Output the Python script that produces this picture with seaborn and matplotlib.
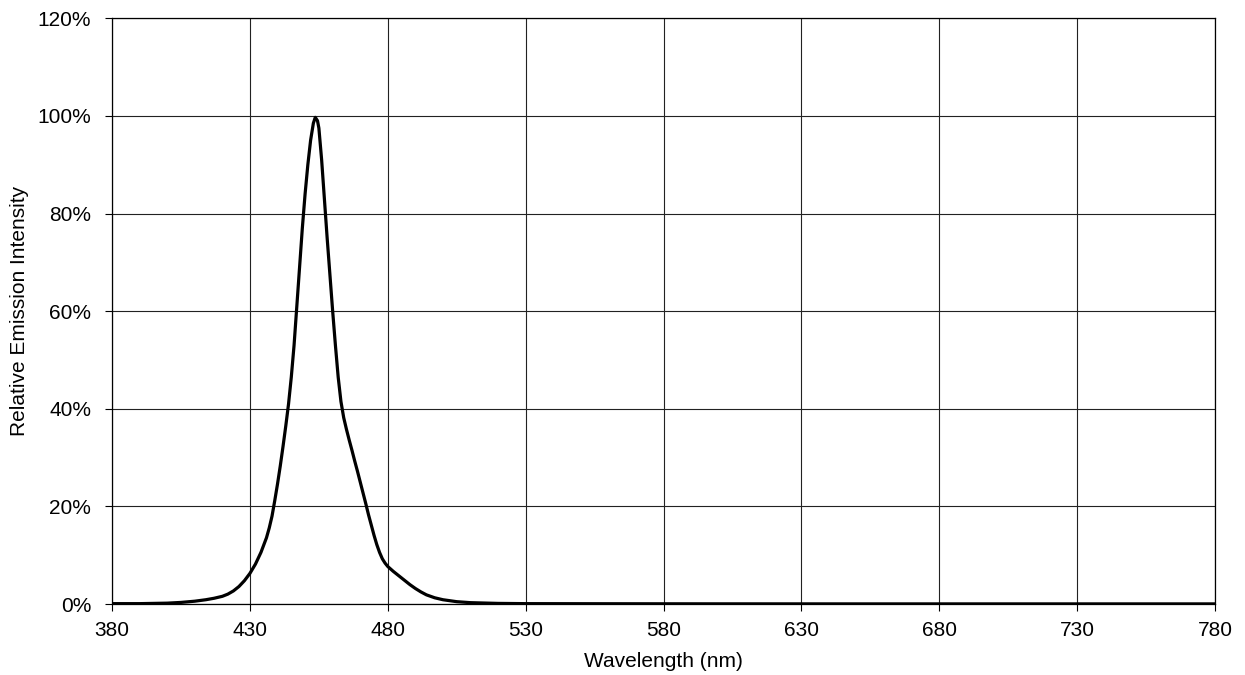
import matplotlib
matplotlib.use("Agg")
import matplotlib.pyplot as plt
import seaborn as sns
import pandas as pd
from matplotlib.ticker import FuncFormatter

wavelength = [380, 390, 400, 405, 410, 414, 417, 420, 422, 424, 426, 428, 430, 432, 434, 436,
              437, 438, 439, 440, 441, 442, 443, 444, 445, 446, 447, 448, 449, 450, 451,
              452, 453, 453.7, 454.5, 455, 456, 457, 458, 459, 460, 461, 462, 463, 464,
              465, 466, 467, 468, 469, 470, 471, 472, 473, 474, 475, 476, 477, 478, 479,
              480, 481, 482, 484, 486, 488, 490, 492, 494, 497, 500, 505, 510, 520, 530,
              560, 600, 650, 700, 750, 780]
intensity = [0.1, 0.1, 0.2, 0.35, 0.6, 0.9, 1.2, 1.6, 2.05, 2.7, 3.6, 4.8, 6.3, 8.2, 10.6, 13.6,
             15.6, 18.0, 21.2, 24.6, 28.3, 32.3, 36.5, 41, 46.5, 53, 61, 69, 77, 84, 90,
             95, 98.5, 99.7, 99, 97.5, 91, 83, 75, 67.5, 60, 53, 46.5, 41.5, 38.2,
             35.8, 33.6, 31.5, 29.3, 27.2, 25.0, 22.8, 20.6, 18.3, 16.2, 14.1, 12.2, 10.6, 9.3, 8.4,
             7.7, 7.2, 6.7, 5.8, 4.9, 4.0, 3.2, 2.5, 1.9, 1.3, 0.9, 0.5, 0.3, 0.15, 0.1,
             0.08, 0.06, 0.05, 0.05, 0.05, 0.05]
x_ticks = [380, 430, 480, 530, 580, 630, 680, 730, 780]
y_ticks = [0, 20, 40, 60, 80, 100, 120]

df = pd.DataFrame({"Wavelength": wavelength, "Intensity": intensity})

sns.set_style("white")
plt.rcParams['font.family'] = ['Liberation Sans', 'DejaVu Sans']

fig = plt.figure(figsize=(12.45, 6.75), dpi=100)
ax = fig.add_axes([0.09, 0.105, 0.886, 0.868])

sns.lineplot(data=df, x="Wavelength", y="Intensity", ax=ax, color="black",
             linewidth=2.3, sort=False)

ax.set_xlim(380, 780)
ax.set_ylim(0, 120)
ax.set_xticks(x_ticks)
ax.set_yticks(y_ticks)
ax.yaxis.set_major_formatter(FuncFormatter(lambda v, p: f"{int(v)}%"))
ax.grid(True, color="#222222", linewidth=0.8)
ax.set_axisbelow(True)
for s in ax.spines.values():
    s.set_color("black")
    s.set_linewidth(0.9)
ax.tick_params(axis="both", direction="out", length=5, width=0.8, color="black",
               labelcolor="black", bottom=True, left=True, labelsize=15)
ax.tick_params(axis="x", pad=7)
ax.tick_params(axis="y", pad=10)
ax.set_xlabel("Wavelength (nm)", fontsize=15, color="black", labelpad=9)
ax.set_ylabel("Relative Emission Intensity", fontsize=15, color="black", labelpad=6)

fig.savefig("out.png", dpi=100, facecolor="white")
